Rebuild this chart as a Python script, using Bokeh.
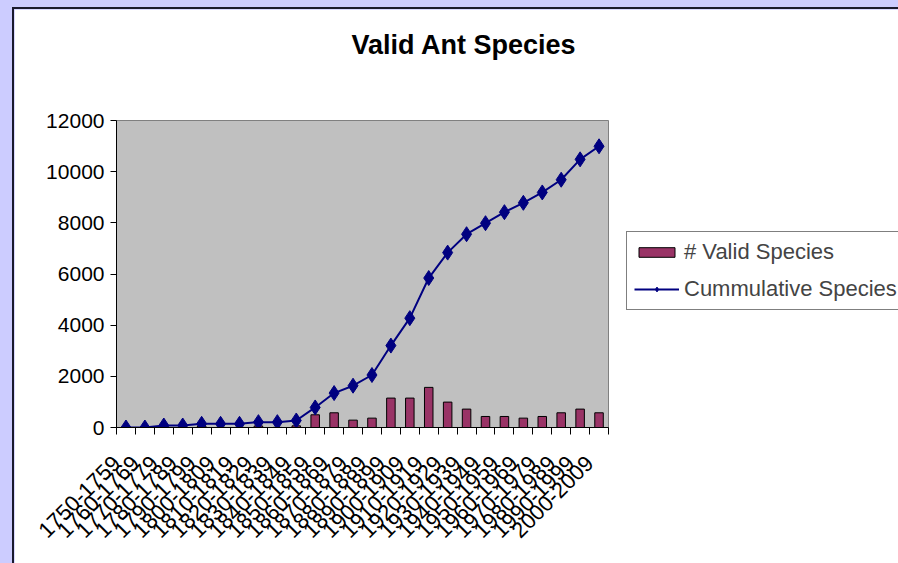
import numpy as np
from bokeh.plotting import figure
from bokeh.models import Range1d, FixedTicker, Legend, LegendItem, ColumnDataSource, Title
from bokeh.embed import file_html
from bokeh.resources import INLINE

categories = ["1750-1759", "1760-1769", "1770-1779", "1780-1789", "1790-1799",
              "1800-1809", "1810-1819", "1820-1829", "1830-1839", "1840-1849",
              "1850-1859", "1860-1869", "1870-1879", "1880-1889", "1890-1899",
              "1900-1909", "1910-1919", "1920-1929", "1930-1939", "1940-1949",
              "1950-1959", "1960-1969", "1970-1979", "1980-1989", "1990-1999",
              "2000-2009"]
valid_species = [10, 5, 70, 5, 60, 5, 5, 60, 5, 65, 497, 575, 288, 366, 1150,
                 1150, 1568, 993, 719, 431, 431, 366, 431, 575, 719, 575]
cumulative_species = [0, 0, 78, 78, 144, 144, 144, 209, 209, 274, 784, 1346, 1634,
                      2052, 3202, 4274, 5842, 6836, 7555, 7986, 8417, 8783, 9188,
                      9685, 10482, 10992]
y_ticks = [0, 2000, 4000, 6000, 8000, 10000, 12000]
title_text = "Valid Ant Species"

n = len(categories)
xs = list(range(n))
src = ColumnDataSource(dict(x=xs, cat=categories, valid=valid_species, cum=cumulative_species))

FONT = "Liberation Sans"

p = figure(frame_width=492, frame_height=307, output_backend="svg", toolbar_location=None,
           x_range=Range1d(-0.5, n - 0.5), y_range=Range1d(0, 12000),
           min_border_left=102, min_border_top=111, min_border_bottom=136, min_border_right=290)
p.title = None
p.styles = {"border-left": "2px solid #1a1a2e", "border-top": "2px solid #1a1a2e"}
p.background_fill_color = "#c0c0c0"
p.border_fill_color = "white"
p.outline_line_color = "#808080"
p.outline_line_width = 1
p.xgrid.visible = False
p.ygrid.visible = False

# spacer nearest the frame, then the chart title above it
p.add_layout(Title(text=" ", text_font_size="1px", standoff=58), "above")
p.add_layout(Title(text=title_text, align="left", offset=235, standoff=0,
                   text_font=FONT, text_font_size="27px", text_font_style="bold",
                   text_color="black"), "above")

bars = p.vbar(x="x", top="valid", width=0.45, source=src, fill_color="#993366",
              line_color="black", line_width=1)
line = p.line(x="x", y="cum", source=src, line_color="#000080", line_width=2)
pts = p.scatter(x="x", y="cum", source=src, marker="diamond", size=15,
                fill_color="#000080", line_color="#000080")

# x axis: ticks at category boundaries; each label hangs from its category's left boundary
bounds = [i - 0.5 for i in range(n + 1)]
xa = p.xaxis[0]
xa.ticker = FixedTicker(ticks=bounds, minor_ticks=[])
xa.major_label_overrides = {b: (categories[i] if i < n else "") for i, b in enumerate(bounds)}
xa.major_tick_in = 0
xa.major_tick_out = 7
xa.major_tick_line_color = "black"
xa.minor_tick_line_color = None
xa.axis_line_color = "black"
xa.major_label_orientation = np.pi / 4
xa.major_label_text_font = FONT
xa.major_label_text_font_size = "22px"
xa.major_label_text_color = "black"
xa.major_label_standoff = 25

ya = p.yaxis[0]
ya.ticker = FixedTicker(ticks=y_ticks)
ya.major_tick_in = 0
ya.major_tick_out = 6
ya.minor_tick_line_color = None
ya.axis_line_color = "black"
ya.major_label_text_font = FONT
ya.major_label_text_font_size = "21px"
ya.major_label_text_color = "black"
ya.major_label_standoff = 6

legend = Legend(items=[LegendItem(label="# Valid Species", renderers=[bars]),
                       LegendItem(label="Cummulative Species", renderers=[line, pts])],
                location=(18, 117))
legend.margin = 17
legend.padding = 7
legend.spacing = 11
legend.glyph_width = 45
legend.glyph_height = 12
legend.label_height = 24
legend.label_standoff = 5
legend.label_text_font = FONT
legend.label_text_font_size = "22px"
legend.border_line_color = "black"
legend.border_line_width = 1
legend.background_fill_color = "white"
legend.background_fill_alpha = 1
p.add_layout(legend, "right")

html = file_html(p, INLINE)
css = ("<style>html,body{background:#ccccff;box-sizing:border-box;overflow:hidden;}"
       "body{padding:7px 0 0 12px !important;margin:0 !important;}</style></head>")
html = html.replace("</head>", css, 1)
open("out.html", "w").write(html)
